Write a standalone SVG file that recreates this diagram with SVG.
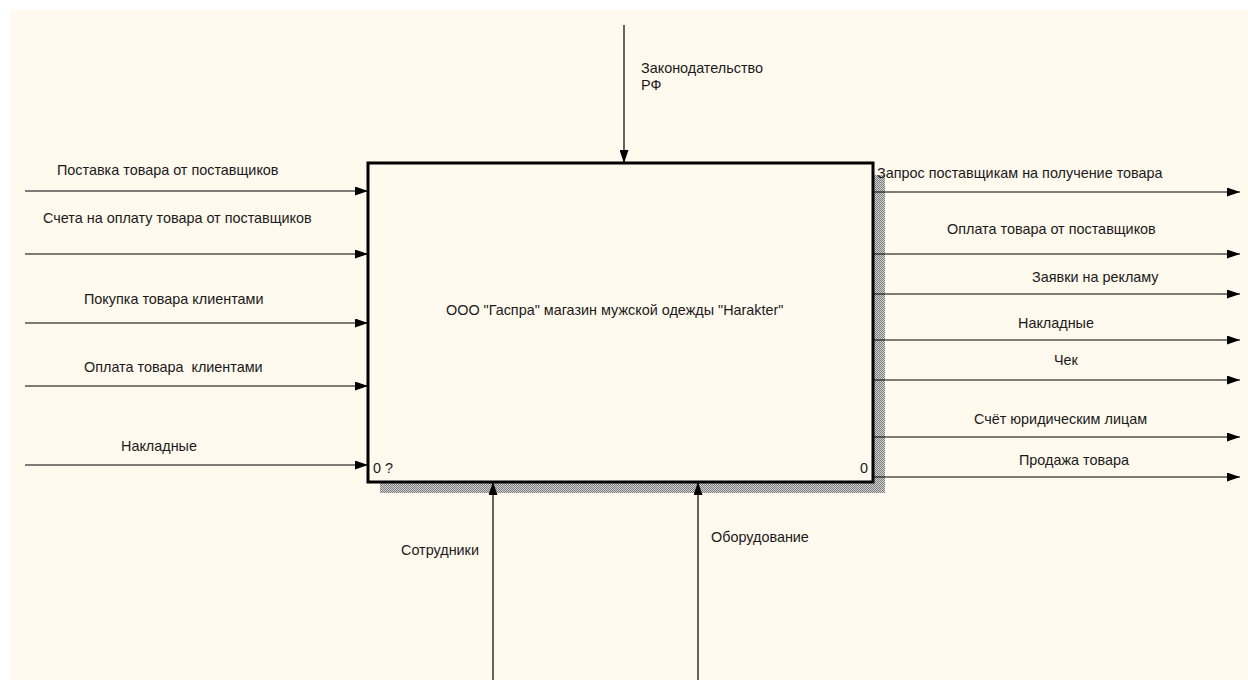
<svg xmlns="http://www.w3.org/2000/svg" width="1248" height="680" viewBox="0 0 1248 680">
<style>
text{font-family:"Liberation Sans",Arial,sans-serif;font-size:14.4px;fill:#1a1a1a}
.c{stroke:#000;stroke-width:1.2;fill:none;marker-end:url(#ah)}
</style>
<defs>
<marker id="ah" markerWidth="13" markerHeight="9" refX="13" refY="4.5" orient="auto" markerUnits="userSpaceOnUse"><path d="M0,0 L13,4.5 L0,9 z" fill="#000"/></marker>
<pattern id="hatch" width="2" height="2" patternUnits="userSpaceOnUse"><rect width="2" height="2" fill="#d4d4d4"/><rect width="1" height="1" fill="#7a7a7a"/><rect x="1" y="1" width="1" height="1" fill="#7a7a7a"/></pattern>
</defs>
<rect width="1248" height="680" fill="#fff"/>
<rect x="11" y="10" width="1237" height="670" fill="#fff9ee"/>
<g id="node-main">
<rect x="380" y="175" width="505" height="318" fill="url(#hatch)"/>
<rect x="368" y="163" width="505" height="319" fill="#fff9ee" stroke="#000" stroke-width="3"/>
<text x="446" y="315">ООО "Гаспра" магазин мужской одежды "Harakter"</text>
<text x="373" y="473">0 ?</text>
<text x="860" y="473">0</text>
</g>
<g id="connectors">
<line class="c" x1="25" y1="191" x2="368" y2="191"/>
<line class="c" x1="25" y1="254" x2="368" y2="254"/>
<line class="c" x1="25" y1="323" x2="368" y2="323"/>
<line class="c" x1="25" y1="386" x2="368" y2="386"/>
<line class="c" x1="25" y1="465" x2="368" y2="465"/>
<line class="c" x1="873" y1="192" x2="1240" y2="192"/>
<line class="c" x1="873" y1="254" x2="1240" y2="254"/>
<line class="c" x1="873" y1="294" x2="1240" y2="294"/>
<line class="c" x1="873" y1="340" x2="1240" y2="340"/>
<line class="c" x1="873" y1="380" x2="1240" y2="380"/>
<line class="c" x1="873" y1="437" x2="1240" y2="437"/>
<line class="c" x1="873" y1="477" x2="1240" y2="477"/>
<line class="c" x1="624" y1="25" x2="624" y2="163"/>
<line class="c" x1="493" y1="680" x2="493" y2="482"/>
<line class="c" x1="698" y1="680" x2="698" y2="482"/>
</g>
<g id="labels">
<text x="57" y="175">Поставка товара от поставщиков</text>
<text x="43" y="223">Счета на оплату товара от поставщиков</text>
<text x="84" y="304">Покупка товара клиентами</text>
<text x="84" y="372" xml:space="preserve">Оплата товара  клиентами</text>
<text x="121" y="451">Накладные</text>
<text x="877" y="178">Запрос поставщикам на получение товара</text>
<text x="947" y="234">Оплата товара от поставщиков</text>
<text x="1032" y="282">Заявки на рекламу</text>
<text x="1018" y="328">Накладные</text>
<text x="1054" y="365">Чек</text>
<text x="974" y="424">Счёт юридическим лицам</text>
<text x="1019" y="465">Продажа товара</text>
<text x="641" y="73">Законодательство</text>
<text x="641" y="90">РФ</text>
<text x="401" y="555">Сотрудники</text>
<text x="711" y="542">Оборудование</text>
</g>
</svg>
